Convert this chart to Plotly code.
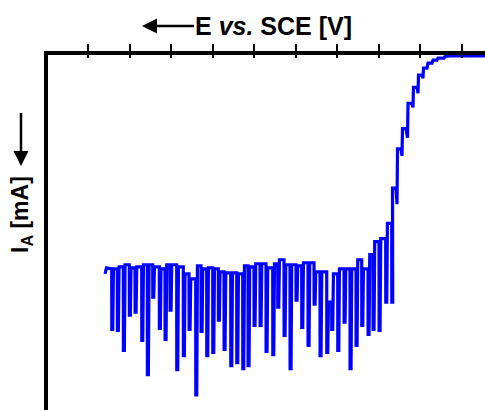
import plotly.graph_objects as go

# ---- data (E in V vs. SCE, I_A in mA) ----
# start of the recorded scan
start_E = [0.041, 0.0446]
start_I = [-2.20, -2.14]

# potentials of the dark transients in the chopped-light region
spike_E = [0.0571, 0.0706, 0.0851, 0.0995, 0.1133, 0.1294, 0.1429, 0.1559,
           0.1718, 0.1855, 0.1976, 0.2137, 0.2296, 0.2434, 0.2595, 0.2723,
           0.2860, 0.3005, 0.3140, 0.3277, 0.3439, 0.3583, 0.3728, 0.3855,
           0.4000, 0.4145, 0.4289, 0.4451, 0.4571, 0.4723, 0.4867, 0.5012,
           0.5149, 0.5301, 0.5446, 0.5590, 0.5752, 0.5872, 0.6017, 0.6169,
           0.6313, 0.6458, 0.6595, 0.6747, 0.6867, 0.7012, 0.7173, 0.7318]
# current on the illuminated plateau just before each transient
plateau_I = [-2.15, -2.15, -2.13, -2.11, -2.14, -2.13, -2.11, -2.11,
             -2.13, -2.15, -2.11, -2.11, -2.13, -2.20, -2.25, -2.12,
             -2.15, -2.14, -2.15, -2.18, -2.19, -2.19, -2.20, -2.12,
             -2.13, -2.10, -2.10, -2.14, -2.10, -2.06, -2.11, -2.11,
             -2.12, -2.09, -2.09, -2.18, -2.18, -2.48, -2.20, -2.15,
             -2.15, -2.15, -2.06, -2.15, -2.01, -1.88, -1.85, -1.70]
# current at the bottom of each transient
spike_I = [-2.75, -2.76, -2.96, -2.61, -2.58, -2.86, -3.20, -2.43,
           -2.74, -2.85, -2.56, -3.15, -3.01, -2.75, -3.40, -2.77,
           -3.01, -2.98, -2.66, -2.95, -3.11, -3.08, -3.14, -3.11,
           -2.71, -2.71, -2.97, -3.00, -2.53, -2.81, -3.14, -2.46,
           -2.73, -2.91, -2.50, -3.01, -2.98, -2.75, -2.96, -2.68,
           -3.14, -2.91, -2.71, -2.80, -2.75, -2.76, -2.48, -2.48]

# stepwise rise towards saturation
rise_E = [0.7337, 0.7422, 0.7446, 0.7458, 0.7542, 0.7566, 0.7578, 0.7663,
          0.7699, 0.7711, 0.7807, 0.7831, 0.7843, 0.7928, 0.7952, 0.7964,
          0.8048, 0.8072, 0.8084, 0.8169, 0.8193, 0.8289, 0.8313, 0.8410,
          0.8434, 0.8578, 0.8602, 0.8723, 0.9700]
rise_I = [-1.35, -1.35, -1.51, -0.96, -0.96, -1.03, -0.76, -0.76,
          -0.85, -0.51, -0.51, -0.55, -0.35, -0.35, -0.41, -0.23,
          -0.23, -0.26, -0.16, -0.16, -0.11, -0.11, -0.08, -0.08,
          -0.06, -0.06, -0.045, -0.04, -0.04]

tick_E = [0.0, 0.1, 0.2, 0.3, 0.4, 0.5, 0.6, 0.7, 0.8, 0.9]

# ---- style ----
W = 0.0042          # width of one dark transient on the E axis
BLUE = "#0000FF"
FONT = "Liberation Sans, Arial, sans-serif"

# assemble the trace path from the transient table
E, I = list(start_E), list(start_I)
for k in range(len(spike_E)):
    if k > 0:
        E.append(spike_E[k - 1] + W)
        I.append(plateau_I[k])
    E.append(spike_E[k])
    I.append(plateau_I[k])
    E.append(spike_E[k] + W * 0.05)
    I.append(spike_I[k])
    E.append(spike_E[k] + W * 0.6)
    I.append(spike_I[k])
E += rise_E
I += rise_I

fig = go.Figure()
fig.add_trace(go.Scatter(x=E, y=I, mode="lines",
                         line=dict(color=BLUE, width=3.2), showlegend=False,
                         hoverinfo="skip"))
fig.add_trace(go.Scatter(x=[], y=[], xaxis="x2", showlegend=False))

xr = [-0.0964, 0.9566]
fig.update_layout(
    width=485, height=410,
    margin=dict(l=48, r=0, t=55, b=0),
    paper_bgcolor="white", plot_bgcolor="white",
    xaxis=dict(range=xr, side="top", showline=True, linewidth=4,
               linecolor="black", ticks="outside", ticklen=7, tickwidth=2,
               tickcolor="black", tickvals=tick_E, showticklabels=False,
               showgrid=False, zeroline=False),
    xaxis2=dict(range=xr, overlaying="x", side="top", showline=False,
                ticks="inside", ticklen=3, tickwidth=2, tickcolor="black",
                tickvals=tick_E, showticklabels=False, showgrid=False,
                zeroline=False),
    yaxis=dict(range=[-3.55, -0.03], showline=True, linewidth=4,
               linecolor="black", ticks="", showticklabels=False,
               showgrid=False, zeroline=False),
    showlegend=False,
    annotations=[
        # x title: arrow head at left, text to the right of it
        dict(text="<b>E <i>vs.</i> SCE [V]</b>", xref="paper", yref="paper",
             x=0.2151, y=1.0817, ax=132, ay=0, axref="pixel", ayref="pixel",
             showarrow=True, arrowhead=2, arrowsize=1.2, arrowwidth=2.5,
             arrowcolor="black", xanchor="center", yanchor="middle",
             font=dict(family=FONT, size=25, color="black")),
        # y title: arrow above the text, pointing down at it
        dict(text="<b>I<sub>A</sub> [mA]</b>", xref="paper", yref="paper",
             x=-0.0618, y=0.8366, ax=0, ay=101, axref="pixel", ayref="pixel",
             showarrow=True, arrowside="start", startarrowhead=2,
             startarrowsize=1.2, arrowwidth=2.5, arrowcolor="black",
             startstandoff=8, textangle=-90, xanchor="center",
             yanchor="middle",
             font=dict(family=FONT, size=23, color="black")),
    ],
)

fig.write_html("out.html", config={"displayModeBar": False},
               post_script="document.body.style.margin='0';")
